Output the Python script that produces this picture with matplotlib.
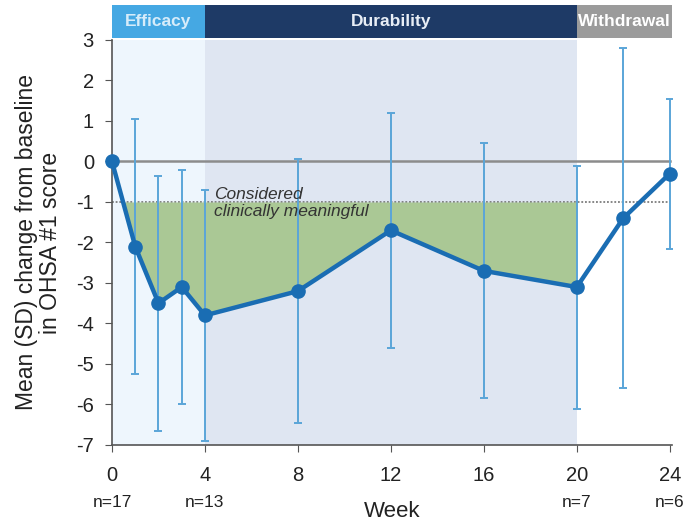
import matplotlib
matplotlib.use("Agg")
import matplotlib.pyplot as plt
import numpy as np
from matplotlib.patches import Rectangle

plt.rcParams["font.family"] = ["Liberation Sans", "DejaVu Sans"]
plt.rcParams["axes.unicode_minus"] = False

weeks = [0, 1, 2, 3, 4, 8, 12, 16, 20, 22, 24]
means = [0.0, -2.1, -3.5, -3.1, -3.8, -3.2, -1.7, -2.7, -3.1, -1.4, -0.3]
upper = [0.0, 1.05, -0.35, -0.2, -0.7, 0.05, 1.2, 0.45, -0.1, 2.8, 1.55]
lower = [0.0, -5.25, -6.65, -6.0, -6.9, -6.45, -4.6, -5.85, -6.1, -5.6, -2.15]

phases = ["Efficacy", "Durability", "Withdrawal"]
phase_bounds = [(0, 4), (4, 20), (20, 24.1)]
phase_colors = ["#45a8e3", "#1e3a66", "#9b9b9b"]
phase_text_colors = ["#d6ecfa", "#e8eef6", "#ffffff"]
band_colors = ["#eef6fd", "#dfe6f2", None]

n_weeks = [0, 4, 20, 24]
n_labels = ["n=17", "n=13", "n=7", "n=6"]

threshold = -1.0

fig = plt.figure(figsize=(6.88, 5.27), dpi=100)
ax = fig.add_axes([0.1628, 0.1556, 0.8140, 0.7685])

# background bands per phase
for (x0, x1), c in zip(phase_bounds, band_colors):
    if c:
        ax.axvspan(x0, x1, color=c, zorder=0, lw=0)

# reference lines
ax.axhline(0, color="#8c8c8c", lw=1.8, zorder=1, xmax=24 / 24.1)
ax.plot([0, 24], [threshold, threshold], color="#666666", lw=1.1,
        ls=(0, (1.2, 1.2)), zorder=1)

# clinically meaningful region
w = np.array(weeks[:9], dtype=float)
m = np.array(means[:9])
ax.fill_between(w, threshold, m, where=m < threshold, interpolate=True,
                color="#aac895", lw=0, zorder=1.5)

ax.text(4.4, -1.02, "Considered\nclinically meaningful", fontsize=12.5,
        style="italic", color="#333333", va="center", ha="left",
        linespacing=1.2, zorder=4)

# error bars
yerr = [np.array(means) - np.array(lower), np.array(upper) - np.array(means)]
ax.errorbar(weeks[1:], means[1:], yerr=[yerr[0][1:], yerr[1][1:]], fmt="none",
            ecolor="#5aa5d8", elinewidth=1.4, capsize=3, capthick=1.4, zorder=2)

ax.plot(weeks, means, color="#1a6db3", lw=3.2, marker="o", ms=9.5,
        zorder=3, clip_on=False)

ax.set_xlim(0, 24.1)
ax.set_ylim(-7, 3)
ax.set_xticks(range(0, 25, 4))
ax.set_yticks(range(-7, 4))
ax.tick_params(axis="both", labelsize=14.5, color="#555555", length=5,
               labelcolor="#222222")
ax.tick_params(axis="y", pad=8)
ax.tick_params(axis="x", pad=10)
for s in ["top", "right"]:
    ax.spines[s].set_visible(False)
for s in ["left", "bottom"]:
    ax.spines[s].set_color("#555555")
    ax.spines[s].set_linewidth(1.2)

ax.set_ylabel("Mean (SD) change from baseline\nin OHSA #1 score", fontsize=16.5,
              color="#222222", labelpad=10, linespacing=1.05)
ax.set_xlabel("Week", fontsize=16, color="#222222", labelpad=12)

for xw, lab in zip(n_weeks, n_labels):
    ax.text(xw, -8.42, lab, ha="center", va="center", fontsize=12.5,
            color="#222222", clip_on=False)

# phase header bars
for name, (x0, x1), c, tc in zip(phases, phase_bounds, phase_colors, phase_text_colors):
    ax.add_patch(Rectangle((x0, 1.005), x1 - x0, 0.082, color=c,
                           transform=ax.get_xaxis_transform(), clip_on=False, lw=0))
    ax.text((x0 + x1) / 2, 1.046, name, transform=ax.get_xaxis_transform(),
            ha="center", va="center", fontsize=12.5, fontweight="bold",
            color=tc, clip_on=False)

fig.savefig("out.png", dpi=100)
